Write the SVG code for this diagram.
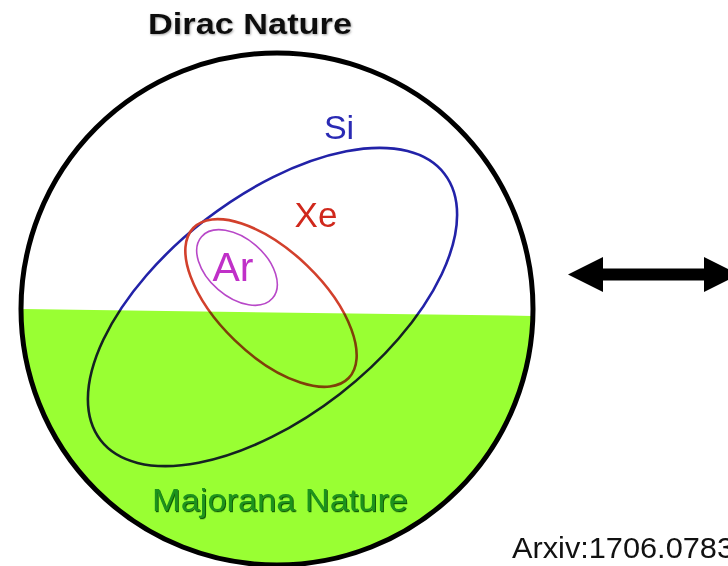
<svg xmlns="http://www.w3.org/2000/svg" width="728" height="566" viewBox="0 0 728 566">
  <style>
    .lbl { font-family: "Liberation Sans", Arial, sans-serif; }
    .ell { fill: none; }
  </style>
  <defs>
    <filter id="shadowG" x="-5%" y="-20%" width="110%" height="140%">
      <feDropShadow dx="1" dy="1.2" stdDeviation="0.6" flood-color="#064806" flood-opacity="0.9"/>
    </filter>
    <filter id="shadowK" x="-5%" y="-20%" width="110%" height="140%">
      <feDropShadow dx="0.8" dy="1" stdDeviation="0.8" flood-color="#666666" flood-opacity="0.6"/>
    </filter>
    <clipPath id="circClip">
      <circle cx="277" cy="309" r="255"/>
    </clipPath>
  </defs>
  <rect x="0" y="0" width="728" height="566" fill="#ffffff"/>

  <g id="node-si">
    <ellipse class="ell" cx="272.5" cy="307" rx="217.5" ry="110" transform="rotate(-37.8 272.5 307)" stroke="#2222a8" stroke-width="2.6"/>
    <text class="lbl" x="339" y="139" font-size="34" fill="#2a2ab4" text-anchor="middle">Si</text>
  </g>

  <g id="node-xe">
    <ellipse class="ell" cx="271" cy="303" rx="108" ry="52" transform="rotate(44 271 303)" stroke="#d2402c" stroke-width="2.6"/>
    <text class="lbl" x="316" y="227" font-size="35" fill="#d0281c" text-anchor="middle">Xe</text>
  </g>

  <g id="node-ar">
    <ellipse class="ell" cx="237" cy="267.5" rx="47" ry="29" transform="rotate(41 237 267.5)" stroke="#b848c8" stroke-width="1.6"/>
    <text class="lbl" x="233" y="281" font-size="41" fill="#c030c8" text-anchor="middle">Ar</text>
  </g>

  <g id="region-majorana">
    <path d="M15,309 L540,316 L540,566 L15,566 Z" clip-path="url(#circClip)" fill="#99ff33" style="mix-blend-mode:multiply"/>
    <text class="lbl" x="280" y="511" font-size="31" fill="#1f931f" text-anchor="middle" textLength="256" lengthAdjust="spacingAndGlyphs" filter="url(#shadowG)">Majorana Nature</text>
  </g>

  <g id="boundary">
    <circle cx="277" cy="309" r="256" fill="none" stroke="#000000" stroke-width="5"/>
    <text class="lbl" x="250" y="34" font-size="30" font-weight="bold" fill="#111111" text-anchor="middle" textLength="204" lengthAdjust="spacingAndGlyphs" filter="url(#shadowK)">Dirac Nature</text>
  </g>

  <g id="connectors">
    <polygon points="568,274.5 603,257 603,268.5 704,268.5 704,257 739,274.5 704,292 704,280.5 603,280.5 603,292" fill="#000000"/>
  </g>

  <g id="caption">
    <text class="lbl" x="512" y="558" font-size="29" fill="#111111" textLength="222" lengthAdjust="spacingAndGlyphs">Arxiv:1706.0783</text>
  </g>
</svg>
